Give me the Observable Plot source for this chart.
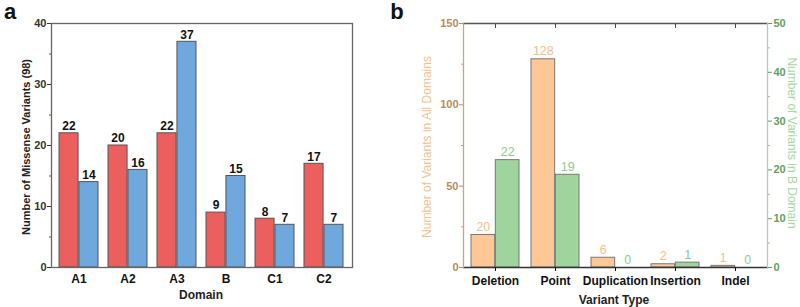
<!DOCTYPE html>
<html><head><meta charset="utf-8">
<script src="https://cdn.jsdelivr.net/npm/d3@7"></script>
<script src="https://cdn.jsdelivr.net/npm/@observablehq/plot@0.6"></script>
<style>
html,body{margin:0;padding:0;background:#fff;font-family:"Liberation Sans",Arial,sans-serif}
#wrap{position:relative;width:800px;height:307px;overflow:hidden}
.p{position:absolute;top:0;display:block}
.lab{position:absolute;white-space:nowrap;transform:translate(-50%,-50%);line-height:1}
</style></head>
<body><div id="wrap"></div>
<script>
// ---- data: panel a ----
const domains = ["A1","A2","A3","B","C1","C2"];
const missenseRed = [22,20,22,9,8,17];
const missenseBlue = [14,16,37,15,7,7];
const yTicksA = [0,10,20,30,40];
const yMinorA = [5,15,25,35];
// ---- data: panel b ----
const variantTypes = ["Deletion","Point","Duplication","Insertion","Indel"];
const allDomains = [20,128,6,2,1];
const bDomain = [22,19,0,1,0];
const yTicksLeftB = [0,50,100,150];
const yMinorLeftB = [25,75,125];
const yTicksRightB = [0,10,20,30,40,50];
const yMinorRightB = [5,15,25,35,45];

const FONT = '"Liberation Sans", Arial, sans-serif';
const RED = "#ec5f5f", BLUE = "#6fa8dc", ORANGE = "#fdc896", GREEN = "#9fd49c";
const wrap = document.getElementById("wrap");

// ---- panel a ----
const WA = 400, mlA = 51, mrA = 48, padInA = 0.2, padOutA = 0.12;
const stepA = (WA - mlA - mrA) / (domains.length - padInA + 2 * padOutA);
const halfA = stepA * (1 - padInA) / 2;
const dataA = domains.map((d, i) => ({domain: d, red: missenseRed[i], blue: missenseBlue[i]}));

const plotA = Plot.plot({
  width: WA, height: 307, marginLeft: mlA, marginRight: mrA, marginTop: 23, marginBottom: 40,
  style: {fontFamily: FONT, background: "transparent", overflow: "visible"},
  x: {domain: domains, paddingInner: padInA, paddingOuter: padOutA, label: null},
  y: {domain: [0, 40], label: null},
  marks: [
    Plot.barY(dataA, {x: "domain", y: "red", fill: RED, stroke: "#555", strokeWidth: 1, insetRight: halfA}),
    Plot.barY(dataA, {x: "domain", y: "blue", fill: BLUE, stroke: "#555", strokeWidth: 1, insetLeft: halfA}),
    Plot.text(dataA, {x: "domain", y: "red", text: "red", dx: -halfA / 2, dy: -7, fontWeight: "bold", fontSize: 12, fill: "#111"}),
    Plot.text(dataA, {x: "domain", y: "blue", text: "blue", dx: halfA / 2, dy: -7, fontWeight: "bold", fontSize: 12, fill: "#111"}),
    Plot.frame({stroke: "#666", strokeWidth: 1.3}),
    Plot.axisY(yTicksA, {tickSize: 4, tickPadding: 1, fontWeight: "bold", fontSize: 11, color: "#333", label: null}),
    Plot.axisY(yMinorA, {tickSize: 2, tickFormat: () => "", color: "#555", label: null}),
    Plot.axisX({tickSize: 0, tickPadding: 7, fontWeight: "bold", fontSize: 12, color: "#111", label: null})
  ]
});
plotA.classList.add("p");
plotA.style.left = "0px";
wrap.appendChild(plotA);

// ---- panel b ----
const WB = 400, mlB = 63, mrB = 33, padInB = 0.2, padOutB = 0.1;
const stepB = (WB - mlB - mrB) / (variantTypes.length - padInB + 2 * padOutB);
const halfB = stepB * (1 - padInB) / 2;
const ratio = yTicksLeftB[yTicksLeftB.length - 1] / yTicksRightB[yTicksRightB.length - 1];
const dataB = variantTypes.map((t, i) => ({type: t, all: allDomains[i], b: bDomain[i]}));

const plotB = Plot.plot({
  width: WB, height: 307, marginLeft: mlB, marginRight: mrB, marginTop: 23, marginBottom: 40,
  style: {fontFamily: FONT, background: "transparent", overflow: "visible"},
  x: {domain: variantTypes, paddingInner: padInB, paddingOuter: padOutB, label: null},
  y: {domain: [0, 150], label: null},
  marks: [
    Plot.barY(dataB, {x: "type", y: "all", fill: ORANGE, stroke: "#777", strokeWidth: 1, insetRight: halfB}),
    Plot.barY(dataB, {x: "type", y: d => d.b * ratio, fill: GREEN, stroke: "#777", strokeWidth: 1, insetLeft: halfB}),
    Plot.text(dataB, {x: "type", y: "all", text: "all", dx: -halfB / 2, dy: -8, fontSize: 12.5, fill: "#f7bd87"}),
    Plot.text(dataB, {x: "type", y: d => d.b * ratio, text: "b", dx: halfB / 2, dy: -8, fontSize: 12.5, fill: "#8ccc88"}),
    Plot.frame({anchor: "top", stroke: "#555", strokeWidth: 1.3}),
    Plot.frame({anchor: "bottom", stroke: "#333", strokeWidth: 1.3}),
    Plot.frame({anchor: "left", stroke: "#c9a57f", strokeWidth: 1.3}),
    Plot.frame({anchor: "right", stroke: "#a8d4a5", strokeWidth: 1.3}),
    Plot.axisY(yTicksLeftB, {anchor: "left", tickSize: 4, tickPadding: 1, fontWeight: "bold", fontSize: 11, color: "#b58c62", label: null}),
    Plot.axisY(yMinorLeftB, {anchor: "left", tickSize: 2, tickFormat: () => "", color: "#c9a57f", label: null}),
    Plot.axisY(yTicksRightB.map(t => t * ratio), {anchor: "right", tickSize: 4, tickPadding: 2, tickFormat: d => d / ratio, fontWeight: "bold", fontSize: 11, color: "#5f9f5f", label: null}),
    Plot.axisY(yMinorRightB.map(t => t * ratio), {anchor: "right", tickSize: 2, tickFormat: () => "", color: "#8cc48a", label: null}),
    Plot.axisX({tickSize: 4, tickPadding: 5, fontWeight: "bold", fontSize: 12, color: "#111", label: null}),
    Plot.axisX({anchor: "top", tickSize: -4, tickFormat: () => "", color: "#444", label: null})
  ]
});
plotB.classList.add("p");
plotB.style.left = "400px";
wrap.appendChild(plotB);

// ---- text labels ----
function lab(text, x, y, css, rot) {
  const d = document.createElement("div");
  d.className = "lab";
  d.textContent = text;
  d.style.left = x + "px";
  d.style.top = y + "px";
  Object.assign(d.style, css);
  if (rot) d.style.transform = `translate(-50%,-50%) rotate(${rot}deg)`;
  wrap.appendChild(d);
}
lab("a", 10, 12, {fontWeight: "bold", fontSize: "22px", color: "#111"});
lab("b", 397, 12, {fontWeight: "bold", fontSize: "22px", color: "#111"});
lab("Number of Missense Variants (98)", 26, 147, {fontWeight: "bold", fontSize: "11px", color: "#222"}, -90);
lab("Domain", 201, 295, {fontWeight: "bold", fontSize: "12px", color: "#222"});
lab("Variant Type", 614, 300, {fontWeight: "bold", fontSize: "12px", color: "#222"});
lab("Number of Variants in All Domains", 427, 147, {fontSize: "12px", color: "#f5bf8e"}, -90);
lab("Number of Variants in B Domain", 792, 143, {fontSize: "12px", color: "#a6d8a3"}, 90);
</script>
</body></html>
